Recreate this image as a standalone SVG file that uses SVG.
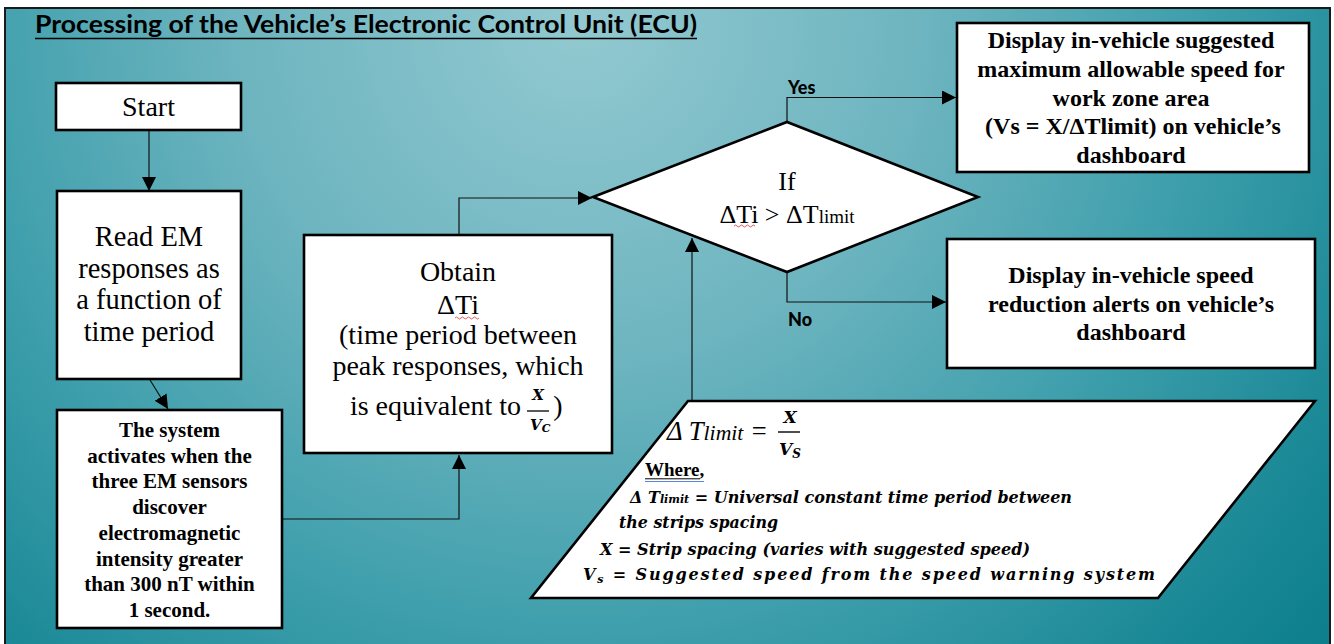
<svg xmlns="http://www.w3.org/2000/svg" width="1334" height="644" viewBox="0 0 1334 644">
<defs>
<radialGradient id="bg" gradientUnits="userSpaceOnUse" cx="580" cy="20" r="1000">
<stop offset="0" stop-color="#93c9d1"/>
<stop offset="0.35" stop-color="#6cb4bf"/>
<stop offset="0.6" stop-color="#41a0ad"/>
<stop offset="0.85" stop-color="#1a8896"/>
<stop offset="1" stop-color="#097d8a"/>
</radialGradient>
<marker id="ah" markerWidth="15" markerHeight="15" refX="14" refY="7" orient="auto" markerUnits="userSpaceOnUse"><path d="M0,0 L14,7 L0,14 z" fill="#000"/></marker>
<style>
.box{fill:#fff;stroke:#000;stroke-width:2.6}
.t{font-family:"Liberation Serif","Times New Roman",serif;fill:#000;text-anchor:middle}
.b{font-weight:bold}
.conn{fill:none;stroke:#111;stroke-width:1.2}
.lbl{font-family:Lato,"Liberation Sans",sans-serif;font-weight:900;font-size:18px;fill:#000}
.m{font-family:"Liberation Serif","Times New Roman",serif;font-style:italic;font-weight:bold;fill:#000}
.d{font-family:"DejaVu Serif",serif;font-style:italic;font-weight:bold;fill:#000}
.sq{fill:none;stroke:#e03030;stroke-width:0.8}
</style>
</defs>
<rect x="0" y="0" width="1334" height="644" fill="#fff"/>
<rect x="5" y="8" width="1325" height="640" fill="url(#bg)" stroke="#1a1a1a" stroke-width="2"/>

<g id="title">
<text x="35" y="33" font-family="Lato,'Liberation Sans',sans-serif" font-weight="bold" font-size="24" textLength="662" lengthAdjust="spacingAndGlyphs" fill="#000">Processing of the Vehicle’s Electronic Control Unit (ECU)</text>
<line x1="35" y1="38.5" x2="697" y2="38.5" stroke="#000" stroke-width="1.5"/>
</g>

<g id="connectors">
<path class="conn" d="M149,131 V191" marker-end="url(#ah)"/>
<path class="conn" d="M150,380 L168,409" marker-end="url(#ah)"/>
<path class="conn" d="M283,519 H459 V455" marker-end="url(#ah)"/>
<path class="conn" d="M459,235 V198 H592" marker-end="url(#ah)"/>
<path class="conn" d="M787,122 V97.5 H956" marker-end="url(#ah)"/>
<path class="conn" d="M787,272 V302 H946" marker-end="url(#ah)"/>
<path class="conn" d="M692,401 V238" marker-end="url(#ah)"/>
<text class="lbl" x="788" y="94">Yes</text>
<text class="lbl" x="788" y="326">No</text>
</g>

<g id="n-start">
<rect class="box" x="56" y="83" width="185" height="47"/>
<text class="t" x="148.5" y="116" font-size="28">Start</text>
</g>

<g id="n-read">
<rect class="box" x="57" y="191" width="184" height="188"/>
<text class="t" x="149" font-size="28.5"><tspan x="149" y="246">Read EM</tspan><tspan x="149" y="278">responses as</tspan><tspan x="149" y="309">a function of</tspan><tspan x="149" y="341">time period</tspan></text>
</g>

<g id="n-system">
<rect class="box" x="57" y="410" width="225" height="218"/>
<text class="t b" font-size="21"><tspan x="169.5" y="437">The system</tspan><tspan x="169.5" y="462.7">activates when the</tspan><tspan x="169.5" y="488.4">three EM sensors</tspan><tspan x="169.5" y="514.1">discover</tspan><tspan x="169.5" y="539.8">electromagnetic</tspan><tspan x="169.5" y="565.5">intensity greater</tspan><tspan x="169.5" y="591.2">than 300 nT within</tspan><tspan x="169.5" y="616.9">1 second.</tspan></text>
</g>

<g id="n-obtain">
<rect class="box" x="304" y="235" width="308" height="218"/>
<text class="t" font-size="28"><tspan x="458" y="281">Obtain</tspan><tspan x="458" y="314">ΔTi</tspan><tspan x="458" y="344">(time period between</tspan><tspan x="458" y="375">peak responses, which</tspan></text>
<path class="sq" d="M455,318 q1.5,-2 3,0 t3,0 t3,0 t3,0 t3,0 t3,0 t3,0 t3,0"/>
<text class="t" x="521" y="415" font-size="28" style="text-anchor:end">is equivalent to</text>
<text class="d" x="538" y="400" font-size="15" text-anchor="middle">X</text>
<line x1="527" y1="411" x2="549" y2="411" stroke="#000" stroke-width="1.3"/>
<text class="d" x="530" y="430" font-size="15">V<tspan font-size="11" dy="2">C</tspan></text>
<text class="t" x="558" y="415" font-size="28">)</text>
</g>

<g id="n-decision">
<polygon class="box" points="593,197 787,122 978,197 787,272"/>
<text class="t" x="787" y="190" font-size="26">If</text>
<text class="t" x="787" y="223" font-size="26">ΔTi &gt; ΔT<tspan font-size="19">limit</tspan></text>
<path class="sq" d="M734,226 q1.5,-2 3,0 t3,0 t3,0 t3,0 t3,0 t3,0 t3,0"/>
</g>

<g id="n-yes">
<rect class="box" x="957" y="23" width="352" height="149"/>
<text class="t b" font-size="24"><tspan x="1131" y="48">Display in-vehicle suggested</tspan><tspan x="1131" y="77">maximum allowable speed for</tspan><tspan x="1131" y="105.5">work zone area</tspan><tspan x="1133" y="134">(Vs = X/ΔTlimit) on vehicle’s</tspan><tspan x="1131" y="163">dashboard</tspan></text>
</g>

<g id="n-no">
<rect class="box" x="947" y="239" width="368" height="129"/>
<text class="t b" font-size="24"><tspan x="1131" y="283">Display in-vehicle speed</tspan><tspan x="1131" y="312">reduction alerts on vehicle’s</tspan><tspan x="1131" y="340">dashboard</tspan></text>
</g>

<g id="n-formula">
<polygon class="box" points="688,401 1315,401 1158,598 531,598"/>
<text x="667" y="440" font-family="'Liberation Serif',serif" font-style="italic" font-size="27" fill="#000" textLength="101" lengthAdjust="spacingAndGlyphs">Δ T<tspan font-size="22">limit</tspan> =</text>
<text class="d" x="790" y="423" font-size="17" text-anchor="middle">X</text>
<line x1="778" y1="432" x2="800" y2="432" stroke="#000" stroke-width="1.4"/>
<text class="d" x="779" y="455" font-size="17">V<tspan font-size="12" dy="3">S</tspan></text>
<text x="645" y="476" font-family="'Liberation Serif',serif" font-weight="bold" font-size="19" fill="#000">Where,</text>
<line x1="645" y1="478.8" x2="700" y2="478.8" stroke="#000" stroke-width="1"/>
<line x1="645" y1="481.5" x2="704" y2="481.5" stroke="#5a86e0" stroke-width="1.2"/>
<text class="d" x="630" y="503" font-size="16" textLength="442" lengthAdjust="spacingAndGlyphs">Δ T<tspan font-size="11">limit</tspan> = Universal constant time period between</text>
<text class="d" x="619" y="528" font-size="16" textLength="159" lengthAdjust="spacingAndGlyphs">the strips spacing</text>
<text class="d" x="600" y="555" font-size="16" textLength="430" lengthAdjust="spacingAndGlyphs">X = Strip spacing (varies with suggested speed)</text>
<text class="d" x="583" y="580" font-size="16" textLength="572">V<tspan font-size="11" dy="3">s</tspan><tspan dy="-3"> = Suggested speed from the speed warning system</tspan></text>
</g>
</svg>
